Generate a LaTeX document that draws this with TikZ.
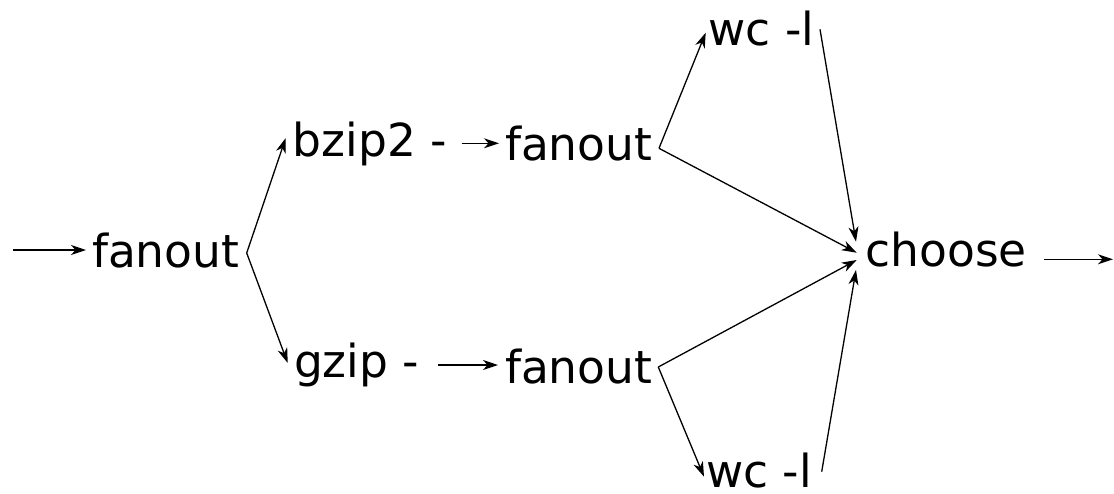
\documentclass[tikz,border=0pt]{standalone}
\usepackage{fontspec}
\setmainfont{DejaVu Sans}
\usetikzlibrary{arrows.meta}
\begin{document}
\begin{tikzpicture}[x=1pt,y=-1pt,
  lbl/.style={anchor=base west,inner sep=0pt,outer sep=0pt,font=\fontsize{45.5}{50}\selectfont},
  arr/.style={line width=1.3pt,-{Stealth[length=15pt,width=10pt,inset=4.5pt]}},
  ln/.style={line width=1.3pt}]
\useasboundingbox (0,0) rectangle (1114,493);
\node[lbl] (f1) at (92,267) {fanout};
\node[lbl] (bz) at (292.7,156) {bzip2 -};
\node[lbl] (gz) at (294,377) {gzip -};
\node[lbl] (f2) at (505,160) {fanout};
\node[lbl] (f3) at (505,383) {fanout};
\node[lbl] (wt) at (708.7,45) {wc -l};
\node[lbl] (wb) at (706,487) {wc -l};
\node[lbl] (ch) at (865.5,266) {choose};
\coordinate (in) at (13,250);
\coordinate (out) at (1113,259.3);
\draw[arr] (in) -- ([shift={(-6,-17)}]f1.base west);
\draw[arr] ([shift={(154.7,-14)}]f1.base west) -- ([shift={(-7,-18)}]bz.base west);
\draw[arr] ([shift={(154.7,-14)}]f1.base west) -- ([shift={(-6.3,-14)}]gz.base west);
\draw[arr] ([shift={(169,-12.7)}]bz.base west) -- ([shift={(-6,-16.7)}]f2.base west);
\draw[arr] ([shift={(144,-12)}]gz.base west) -- ([shift={(-7,-18)}]f3.base west);
\draw[arr] ([shift={(154,-11.7)}]f2.base west) -- ([shift={(-3,-12.3)}]wt.base west);
\draw[arr] ([shift={(154,-11.7)}]f2.base west) -- ([shift={(-8.8,-13.3)}]ch.base west);
\draw[arr] ([shift={(153.3,-16)}]f3.base west) -- ([shift={(-2,-10.3)}]wb.base west);
\draw[arr] ([shift={(153.3,-16)}]f3.base west) -- ([shift={(-8.8,-6)}]ch.base west);
\draw[arr] ([shift={(111.3,-15.7)}]wt.base west) -- ([shift={(-9.5,-24.3)}]ch.base west);
\draw[arr] ([shift={(115.7,-15.3)}]wb.base west) -- ([shift={(-9.5,4)}]ch.base west);
\draw[arr] ([shift={(178.5,-6.7)}]ch.base west) -- (out);
\end{tikzpicture}
\end{document}
